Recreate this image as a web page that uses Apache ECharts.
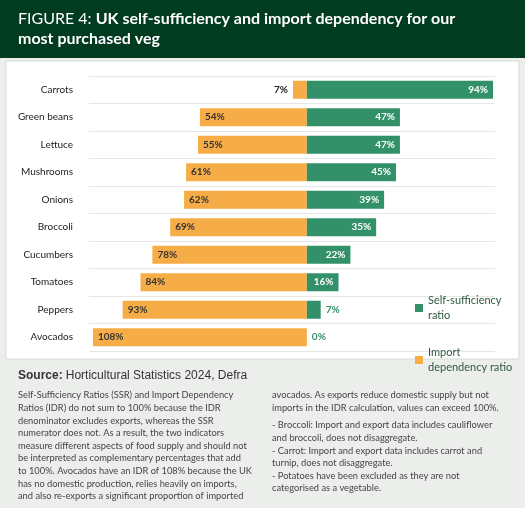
<!DOCTYPE html>
<html><head><meta charset="utf-8">
<script src="https://cdn.jsdelivr.net/npm/echarts@6/dist/echarts.min.js"></script>
<style>body{margin:0;background:#eceeec}#c{width:525px;height:508px}</style>
</head><body><div id="c"></div>
<script>
var veg = ['Carrots','Green beans','Lettuce','Mushrooms','Onions','Broccoli','Cucumbers','Tomatoes','Peppers','Avocados'];
var ssr = [94,47,47,45,39,35,22,16,7,0];
var idr = [7,54,55,61,62,69,78,84,93,108];

var green = '#33916a', orange = '#f7ad47';
var font = 'Lato, "Noto Sans", sans-serif';

var idrData = idr.map(function(v, i){
  var d = {value: -v};
  if (v < 20) d.label = {position: 'left', color: '#222'};
  return d;
});
var ssrData = ssr.map(function(v){
  var d = {value: v};
  if (v < 10) d.label = {position: 'right', color: green};
  return d;
});

var leftText = 'Self-Sufficiency Ratios (SSR) and Import Dependency\nRatios (IDR) do not sum to 100% because the IDR\ndenominator excludes exports, whereas the SSR\nnumerator does not. As a result, the two indicators\nmeasure different aspects of food supply and should not\nbe interpreted as complementary percentages that add\nto 100%. Avocados have an IDR of 108% because the UK\nhas no domestic production, relies heavily on imports,\nand also re-exports a significant proportion of imported';
var rightText1 = 'avocados. As exports reduce domestic supply but not\nimports in the IDR calculation, values can exceed 100%.';
var rightText2 = '- Broccoli: Import and export data includes cauliflower\nand broccoli, does not disaggregate.\n- Carrot: Import and export data includes carrot and\nturnip, does not disaggregate.\n- Potatoes have been excluded as they are not\ncategorised as a vegetable.';

var chart = echarts.init(document.getElementById('c'));
chart.setOption({
  animation: false,
  textStyle: {fontFamily: font},
  graphic: [
    {type: 'rect', z: -10, shape: {x: 0, y: 0, width: 525, height: 58}, style: {fill: '#013b20'}},
    {type: 'rect', z: -10, shape: {x: 6, y: 61, width: 513, height: 298}, style: {fill: '#fff', stroke: '#d6dbd7'}},
    {type: 'text', left: 18, top: 9, style: {rich: {a: {fontSize: 16, fontWeight: 'normal', fill: '#fff', fontFamily: font}, b: {fontSize: 16, fontWeight: 'bold', fill: '#fff', fontFamily: font}},
      text: '{a|FIGURE 4: }{b|UK self-sufficiency and import dependency for our}\n{b|most purchased veg}', lineHeight: 20}},
    {type: 'text', left: 18, top: 370, style: {rich: {a: {fontSize: 12, fontWeight: 'bold', fill: '#333'}, b: {fontSize: 12, fill: '#333'}},
      text: '{a|Source:} {b|Horticultural Statistics 2024, Defra}', fontFamily: font}},
    {type: 'text', left: 18, top: 389, style: {text: leftText, fontSize: 9.3, lineHeight: 12.6, fill: '#444', fontFamily: font}},
    {type: 'text', left: 272, top: 389, style: {text: rightText1, fontSize: 9.3, lineHeight: 12.6, fill: '#444', fontFamily: font}},
    {type: 'text', left: 272, top: 419, style: {text: rightText2, fontSize: 9.3, lineHeight: 12.6, fill: '#444', fontFamily: font}}
  ],
  legend: {
    orient: 'vertical', left: 410, top: 281, itemWidth: 8, itemHeight: 8, itemGap: 8,
    icon: 'rect',
    data: ['Self-sufficiency\nratio', 'Import\ndependency ratio'],
    textStyle: {fontSize: 11, color: '#2d5a3d', lineHeight: 15, padding: [14, 0, 0, 0]}
  },
  grid: {left: 89, right: 30, top: 76, bottom: 157},
  xAxis: {type: 'value', min: -110, max: 95, show: false},
  yAxis: {
    type: 'category', data: veg, inverse: true,
    axisLine: {show: false}, axisTick: {show: false},
    axisLabel: {fontSize: 10, color: '#222', margin: 16},
    splitLine: {show: true, lineStyle: {color: '#e6e6e6'}}
  },
  series: [
    {name: 'Import\ndependency ratio', type: 'bar', stack: 's', data: idrData, barWidth: 18,
      itemStyle: {color: orange},
      label: {show: true, position: 'insideLeft', color: '#333', fontWeight: 'bold', fontSize: 10,
        formatter: function(p){ return Math.abs(p.value) + '%'; }}},
    {name: 'Self-sufficiency\nratio', type: 'bar', stack: 's2', data: ssrData, barWidth: 18, barGap: '-100%',
      itemStyle: {color: green},
      label: {show: true, position: 'insideRight', color: '#fff', fontWeight: 'bold', fontSize: 10,
        formatter: '{c}%'}}
  ]
});
</script></body></html>
